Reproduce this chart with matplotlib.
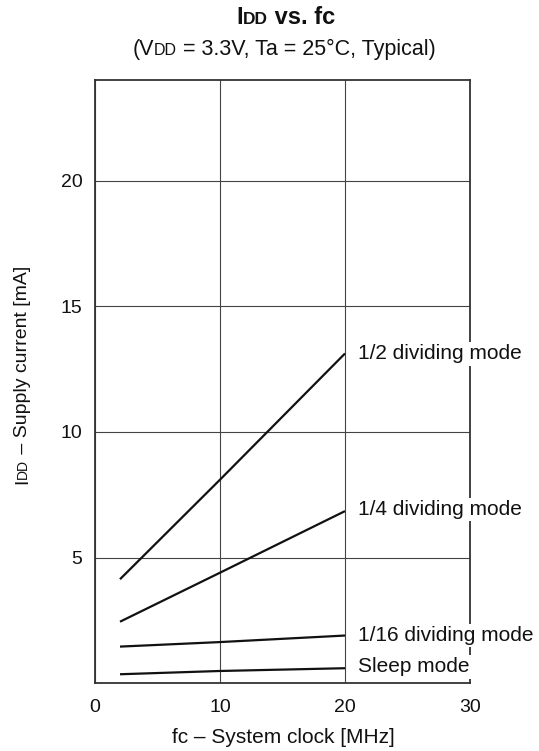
import matplotlib
matplotlib.use('Agg')
import matplotlib.pyplot as plt
from matplotlib.transforms import offset_copy

plt.rcParams['font.family'] = ['Liberation Sans', 'DejaVu Sans']

# values
fc = [2, 10, 20]
modes = ['1/2 dividing mode', '1/4 dividing mode', '1/16 dividing mode', 'Sleep mode']
idd = {
    '1/2 dividing mode': [4.14, 8.1, 13.12],
    '1/4 dividing mode': [2.45, 4.4, 6.85],
    '1/16 dividing mode': [1.46, 1.64, 1.9],
    'Sleep mode': [0.36, 0.49, 0.6],
}
label_y = [13.1, 6.9, 1.9, 0.65]
xticks = [0, 10, 20, 30]
yticks = [5, 10, 15, 20]

W, H = 539, 751
fig = plt.figure(figsize=(W / 100, H / 100), dpi=100)
ax = fig.add_axes([95 / W, 1 - 683.3 / H, 375 / W, 603.3 / H])

for m in modes:
    ax.plot(fc, idd[m], color='#111111', lw=1.6, solid_capstyle='butt', zorder=3)

for m, y in zip(modes, label_y):
    ax.text(21, y, m, fontsize=15, ha='left', va='center', color='#111111',
            zorder=6, clip_on=False,
            bbox=dict(boxstyle='square,pad=0.1', fc='white', ec='none'))

ax.set_xlim(0, 30)
ax.set_ylim(0, 24)
ax.set_xticks(xticks)
ax.set_yticks(yticks)
ax.tick_params(length=0, labelsize=14, colors='#111111')
ax.tick_params(axis='x', pad=11)
ax.tick_params(axis='y', pad=9)
ax.grid(True, color='#444444', lw=0.8)
ax.set_axisbelow(True)
for s in ax.spines.values():
    s.set_color('#333333')
    s.set_linewidth(1.3)


def draw_runs(x, y, runs, rotation=0):
    # text pieces of different sizes on one baseline, centred on (x, y) in pixels
    r = fig.canvas.get_renderer()
    texts = []
    for s, size, weight in runs:
        t = fig.text(x / W, 1 - y / H, s, fontsize=size, fontweight=weight,
                     rotation=rotation, rotation_mode='anchor',
                     ha='left', va='baseline', color='#111111')
        texts.append(t)
    sizes = []
    for t in texts:
        bb = t.get_window_extent(r)
        sizes.append(bb.width if rotation == 0 else bb.height)
    off = -sum(sizes) / 2
    for t, w in zip(texts, sizes):
        dx, dy = (off, 0) if rotation == 0 else (0, off)
        t.set_transform(offset_copy(fig.transFigure, fig=fig, x=dx, y=dy, units='dots'))
        off += w


draw_runs(286, 24, [('I', 17, 'bold'), ('DD', 12.5, 'bold'), (' vs. fc', 17, 'bold')])
draw_runs(284, 55, [('(V', 15.5, 'normal'), ('DD', 11.5, 'normal'),
                    (' = 3.3V, Ta = 25°C, Typical)', 15.5, 'normal')])
draw_runs(27, 375, [('I', 14, 'normal'), ('DD', 10, 'normal'),
                    (' – Supply current [mA]', 14, 'normal')], rotation=90)
fig.text(283 / W, 1 - 743 / H, 'fc – System clock [MHz]', fontsize=15,
         ha='center', va='baseline', color='#111111')

fig.savefig('out.png', dpi=100)
